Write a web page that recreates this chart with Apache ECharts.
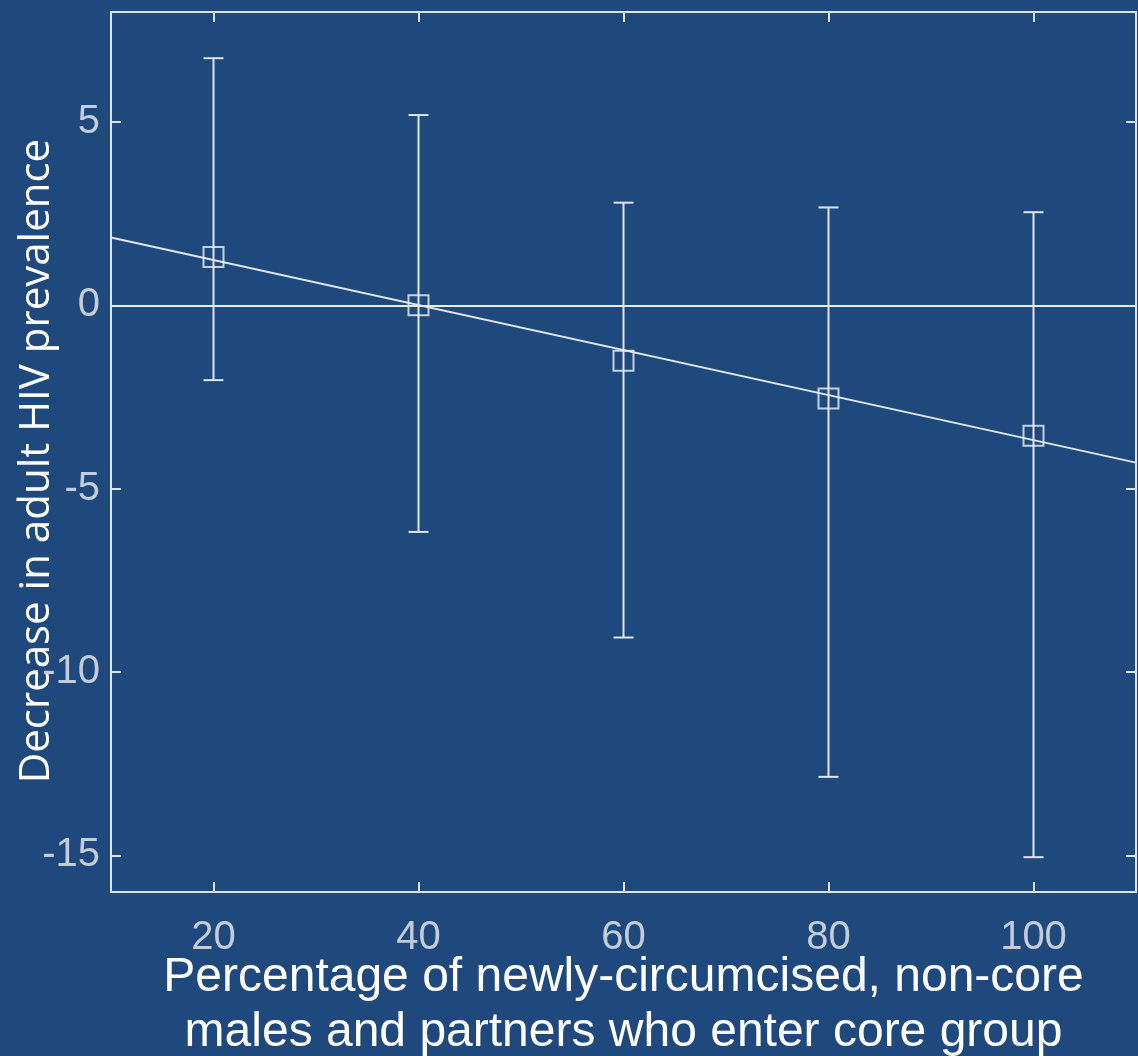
<!DOCTYPE html>
<html>
<head>
<meta charset="utf-8">
<script src="https://cdn.jsdelivr.net/npm/echarts@6/dist/echarts.min.js"></script>
<style>
html,body{margin:0;padding:0;background:#1f497c;}
#chart{width:1138px;height:1056px;}
</style>
</head>
<body>
<div id="chart"></div>
<script>
// ---- data ----
var xValues   = [20, 40, 60, 80, 100];
var meanVals  = [1.32, 0.0, -1.51, -2.54, -3.56];
var upperVals = [6.74, 5.19, 2.80, 2.67, 2.54];
var lowerVals = [-2.04, -6.18, -9.06, -12.86, -15.05];
var fitX      = [10, 110];
var fitY      = [1.85, -4.29];
var xTicks    = [20, 40, 60, 80, 100];
var yTicks    = [-15, -10, -5, 0, 5];
var xTitle    = 'Percentage of newly-circumcised, non-core\nmales and partners who enter core group';
var yTitle    = 'Decrease in adult HIV prevalence';

var lineColor = '#dfe5ee';
var tickColor = '#c3ccd8';

var chart = echarts.init(document.getElementById('chart'), null, {renderer: 'canvas'});

var axisLine = {show: true, onZero: false, lineStyle: {color: lineColor, width: 2}};
var axisTick = {show: true, inside: true, length: 10, lineStyle: {color: lineColor, width: 2}};

var option = {
  backgroundColor: '#1f497c',
  animation: false,
  grid: {left: 111, right: 2, top: 12, bottom: 164, containLabel: false, outerBoundsMode: 'none'},
  xAxis: [{
    type: 'value', min: 10, max: 110, position: 'bottom',
    axisLine: axisLine,
    axisTick: Object.assign({}, axisTick, {customValues: xTicks}),
    axisLabel: {customValues: xTicks, color: tickColor, fontFamily: 'Liberation Sans', fontSize: 40, margin: 26},
    splitLine: {show: false},
    name: xTitle, nameLocation: 'middle', nameGap: 58, nameMoveOverlap: false,
    nameTextStyle: {color: '#ffffff', fontFamily: 'Liberation Sans', fontSize: 48, lineHeight: 55, align: 'center', verticalAlign: 'top'}
  }, {
    type: 'value', min: 10, max: 110, position: 'top',
    axisLine: axisLine,
    axisTick: Object.assign({}, axisTick, {customValues: xTicks}),
    axisLabel: {show: false},
    splitLine: {show: false}
  }],
  yAxis: [{
    type: 'value', min: -16, max: 8, position: 'left',
    axisLine: axisLine,
    axisTick: Object.assign({}, axisTick, {customValues: yTicks}),
    axisLabel: {customValues: yTicks, color: tickColor, fontFamily: 'Liberation Sans', fontSize: 40, margin: 11},
    splitLine: {show: false},
    name: yTitle, nameLocation: 'middle', nameRotate: 90, nameGap: 53, nameMoveOverlap: false,
    nameTextStyle: {color: '#ffffff', fontFamily: 'Open Sans', fontSize: 42, padding: [0, 18, 0, 0]}
  }, {
    type: 'value', min: -16, max: 8, position: 'right',
    axisLine: axisLine,
    axisTick: Object.assign({}, axisTick, {customValues: yTicks}),
    axisLabel: {show: false},
    splitLine: {show: false}
  }],
  series: [
    {
      type: 'custom',
      xAxisIndex: 0, yAxisIndex: 0,
      z: 2,
      silent: true,
      data: xValues.map(function (x, i) { return [x, lowerVals[i], upperVals[i]]; }),
      renderItem: function (params, api) {
        var lo = api.coord([api.value(0), api.value(1)]);
        var hi = api.coord([api.value(0), api.value(2)]);
        var w = 10;
        var style = {stroke: lineColor, lineWidth: 2, fill: null};
        return {
          type: 'group',
          children: [
            {type: 'line', shape: {x1: hi[0], y1: hi[1], x2: lo[0], y2: lo[1]}, style: style},
            {type: 'line', shape: {x1: hi[0] - w, y1: hi[1], x2: hi[0] + w, y2: hi[1]}, style: style},
            {type: 'line', shape: {x1: lo[0] - w, y1: lo[1], x2: lo[0] + w, y2: lo[1]}, style: style}
          ]
        };
      }
    },
    {
      type: 'line',
      xAxisIndex: 0, yAxisIndex: 0,
      z: 3,
      silent: true,
      symbol: 'none',
      data: fitX.map(function (x, i) { return [x, fitY[i]]; }),
      lineStyle: {color: lineColor, width: 2},
      markLine: {
        silent: true,
        symbol: 'none',
        label: {show: false},
        lineStyle: {color: '#ece9df', width: 2, type: 'solid'},
        data: [{yAxis: 0}]
      }
    },
    {
      type: 'scatter',
      xAxisIndex: 0, yAxisIndex: 0,
      z: 4,
      silent: true,
      symbol: 'rect',
      symbolSize: 20,
      data: xValues.map(function (x, i) { return [x, meanVals[i]]; }),
      itemStyle: {color: 'rgba(0,0,0,0)', borderColor: '#eef2f7', borderWidth: 2}
    }
  ]
};
chart.setOption(option);
</script>
</body>
</html>
